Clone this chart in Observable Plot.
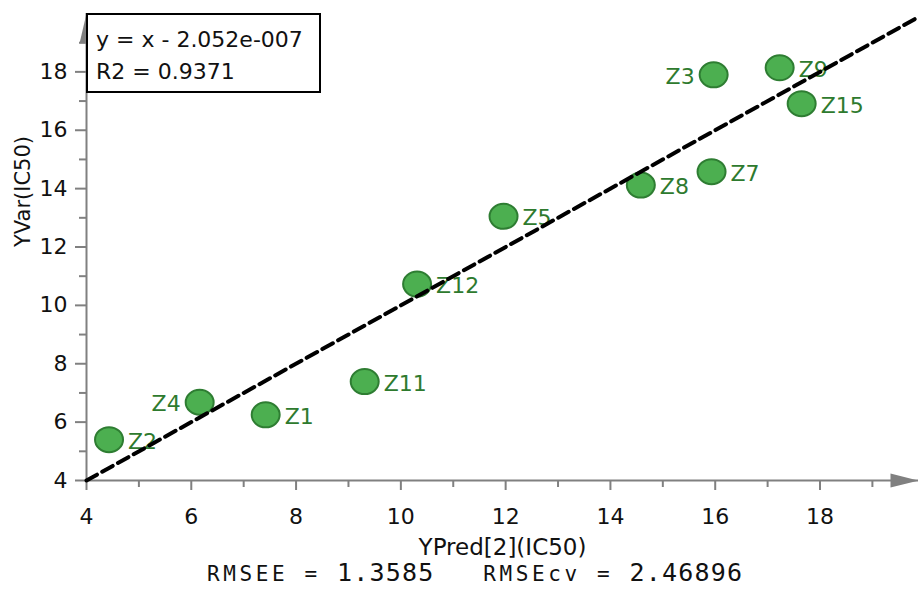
<!DOCTYPE html>
<html>
<head>
<meta charset="utf-8">
<script src="https://cdn.jsdelivr.net/npm/d3@7"></script>
<script src="https://cdn.jsdelivr.net/npm/@observablehq/plot@0.6"></script>
<style>
  body { margin: 0; background: #fff; }
  #wrap { position: relative; width: 918px; height: 592px; font-family: "DejaVu Sans", sans-serif; }
  #box { position: absolute; left: 86px; top: 13px; width: 235px; height: 80px; box-sizing: border-box;
         border: 2px solid #000; background: #fff; padding: 9px 0 0 8px; font-size: 22px; line-height: 32px; color: #111; white-space: pre; }
  #caption { position: absolute; left: 207px; top: 561px; font-family: "DejaVu Sans Mono", monospace; font-size: 21px;
             letter-spacing: 3.6px; line-height: 24px; white-space: pre; color: #111; }
  #caption .num { font-size: 25px; letter-spacing: 1.2px; }
</style>
</head>
<body>
<div id="wrap"></div>
<script>
// ---- data ----
const names = ["Z2", "Z4", "Z1", "Z11", "Z12", "Z5", "Z8", "Z7", "Z3", "Z9", "Z15"];
const yPred = [4.43, 6.16, 7.42, 9.31, 10.31, 11.96, 14.58, 15.93, 15.97, 17.23, 17.65];
const yVar  = [5.40, 6.68, 6.25, 7.39, 10.73, 13.05, 14.12, 14.58, 17.90, 18.14, 16.91];
const leftLabeled = ["Z4", "Z3"];
const xMajor = [4, 6, 8, 10, 12, 14, 16, 18];
const xMinor = [5, 7, 9, 11, 13, 15, 17, 19];
const yMajor = [4, 6, 8, 10, 12, 14, 16, 18];
const yMinor = [5, 7, 9, 11, 13, 15, 17, 19];
const slope = 1;
const intercept = -2.052e-7;
const interceptText = "2.052e-007";
const r2 = 0.9371;
const rmsee = 1.3585;
const rmsecv = 2.46896;
const xLabel = "YPred[2](IC50)";
const yLabel = "YVar(IC50)";

// ---- build ----
const xDomain = [4, 19.88];
const yDomain = [4, 20];
const pts = names.map((n, i) => ({name: n, x: yPred[i], y: yVar[i], left: leftLabeled.includes(n)}));
const fit = xDomain.map(x => ({x, y: slope * x + intercept}));

const ellipse = {
  draw(ctx) {
    const rx = 14, ry = 12.5, k = 0.5523;
    ctx.moveTo(rx, 0);
    ctx.bezierCurveTo(rx, ry * k, rx * k, ry, 0, ry);
    ctx.bezierCurveTo(-rx * k, ry, -rx, ry * k, -rx, 0);
    ctx.bezierCurveTo(-rx, -ry * k, -rx * k, -ry, 0, -ry);
    ctx.bezierCurveTo(rx * k, -ry, rx, -ry * k, rx, 0);
    ctx.closePath();
  }
};
const upArrow = { draw(ctx) { ctx.moveTo(0, 0); ctx.lineTo(-7, 30); ctx.lineTo(7, 30); ctx.closePath(); } };
const rightArrow = { draw(ctx) { ctx.moveTo(0, 0); ctx.lineTo(-28, -7); ctx.lineTo(-28, 7); ctx.closePath(); } };

const gray = "#808080";
const green = "#2e7a2e";
const font = "DejaVu Sans, sans-serif";

const chart = Plot.plot({
  width: 918,
  height: 568,
  marginLeft: 86,
  marginRight: 0,
  marginTop: 13,
  marginBottom: 88,
  style: {fontFamily: font, color: "#111", background: "#fff"},
  x: {domain: xDomain},
  y: {domain: yDomain},
  marks: [
    Plot.ruleY([yDomain[0]], {stroke: gray, strokeWidth: 2}),
    Plot.ruleX([xDomain[0]], {stroke: gray, strokeWidth: 2}),
    Plot.axisX({ticks: xMajor, tickSize: 10, tickPadding: 18, stroke: gray, strokeWidth: 2, fill: "#111", fontSize: 22, label: null}),
    Plot.axisX({ticks: xMinor, tickSize: 7, stroke: gray, strokeWidth: 2, tickFormat: () => "", label: null}),
    Plot.axisY({ticks: yMajor, tickSize: 11, tickPadding: 8, stroke: gray, strokeWidth: 2, fill: "#111", fontSize: 22, label: null}),
    Plot.axisY({ticks: yMinor, tickSize: 7, stroke: gray, strokeWidth: 2, tickFormat: () => "", label: null}),
    Plot.dot([{x: xDomain[0], y: yDomain[1]}], {x: "x", y: "y", symbol: upArrow, fill: gray, stroke: "none"}),
    Plot.dot([{x: xDomain[1], y: yDomain[0]}], {x: "x", y: "y", symbol: rightArrow, fill: gray, stroke: "none"}),
    Plot.dot(pts, {x: "x", y: "y", symbol: ellipse, fill: "#4caf50", stroke: "#2e7d32", strokeWidth: 2}),
    Plot.text(pts.filter(d => !d.left), {x: "x", y: "y", text: "name", textAnchor: "start", dx: 19, dy: 2, fill: green, fontSize: 22}),
    Plot.text(pts.filter(d => d.left), {x: "x", y: "y", text: "name", textAnchor: "end", dx: -19, dy: 2, fill: green, fontSize: 22}),
    Plot.line(fit, {x: "x", y: "y", stroke: "#000", strokeWidth: 4, strokeDasharray: "12,6"}),
    Plot.text([xLabel], {frameAnchor: "bottom", text: d => d, dy: 67, fontSize: 23, fill: "#111", lineAnchor: "middle"}),
    Plot.text([yLabel], {frameAnchor: "left", text: d => d, dx: -63, rotate: -90, fontSize: 21, fill: "#111", lineAnchor: "middle"})
  ]
});

const wrap = document.getElementById("wrap");
wrap.appendChild(chart);
const box = document.createElement("div");
box.id = "box";
box.textContent = `y = x - ${interceptText}\nR2 = ${r2}`;
wrap.appendChild(box);
const cap = document.createElement("div");
cap.id = "caption";
cap.innerHTML = `RMSEE = <span class="num">${rmsee}</span>   RMSEcv = <span class="num">${rmsecv}</span>`;
wrap.appendChild(cap);
</script>
</body>
</html>
